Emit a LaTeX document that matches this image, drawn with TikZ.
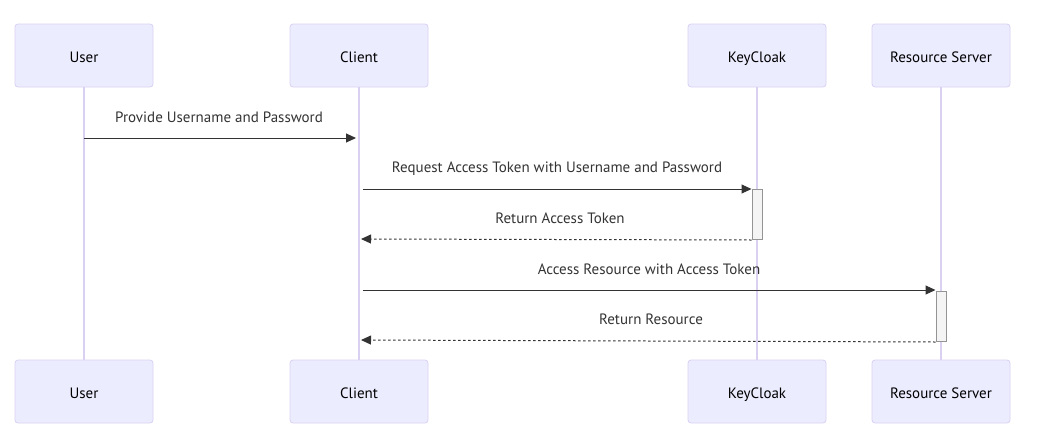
\documentclass[tikz,border=0pt]{standalone}
\usepackage{fontspec}
\setmainfont{PT Sans}
\usetikzlibrary{arrows.meta}
\definecolor{actfill}{HTML}{ECECFF}
\definecolor{actline}{HTML}{D9D0F2}
\definecolor{msg}{HTML}{333333}
\definecolor{actvfill}{HTML}{F4F4F4}
\definecolor{actvline}{HTML}{666666}
\tikzset{
  actor/.style={draw=actline, fill=actfill, rounded corners=3pt, minimum width=138pt, minimum height=63pt, line width=0.8pt, font=\fontsize{15}{17}\selectfont, text=black, inner sep=0pt, text depth=0pt, text height=13.5pt},
  life/.style={draw=actline, line width=1.2pt},
  msgline/.style={draw=msg, line width=1pt, -{Triangle[length=10pt,width=9pt]}},
  retline/.style={msgline, dash pattern=on 2.5pt off 2.5pt},
  lbl/.style={font=\fontsize{15}{17}\selectfont, text=msg, inner sep=0pt},
  activ/.style={draw=actvline!70, fill=actvfill, line width=1pt, minimum width=10pt, minimum height=50pt, inner sep=0pt}
}
\begin{document}
\begin{tikzpicture}[x=1pt,y=-1pt]
\useasboundingbox (0,0) rectangle (1051,447);
% actors top
\node[actor] (ut) at (84,55.5) {User};
\node[actor] (ct) at (359,55.5) {Client};
\node[actor] (kt) at (757,55.5) {KeyCloak};
\node[actor] (rt) at (941,55.5) {Resource Server};
% actors bottom
\node[actor] (ub) at (84,391.5) {User};
\node[actor] (cb) at (359,391.5) {Client};
\node[actor] (kb) at (757,391.5) {KeyCloak};
\node[actor] (rb) at (941,391.5) {Resource Server};
% lifelines
\draw[life] (ut.south) -- (ub.north);
\draw[life] (ct.south) -- (cb.north);
\draw[life] (kt.south) -- (kb.north);
\draw[life] (rt.south) -- (rb.north);
% activations
\node[activ] (ka) at (757,214.5) {};
\node[activ] (ra) at (941,316.5) {};
% coordinates for messages
\coordinate (m1s) at (84,138); \coordinate (m1e) at (356,138);
\coordinate (m2s) at (363,189);
\coordinate (m3e) at (361,239);
\coordinate (m4s) at (363,290);
\coordinate (m5e) at (361,340);
\draw[msgline] (m1s) -- (m1e);
\node[lbl] (l1) at (219,117.5) {Provide Username and Password};
\draw[msgline] (m2s) -- (ka.north west |- m2s);
\node[lbl] (l2) at (557,168.5) {Request Access Token with Username and Password};
\draw[retline] (ka.south west) -- (m3e);
\node[lbl] (l3) at (560,218.5) {Return Access Token};
\draw[msgline] (m4s) -- (ra.west |- m4s);
\node[lbl] (l4) at (649,269.5) {Access Resource with Access Token};
\draw[retline] (ra.south west) -- (m5e);
\node[lbl] (l5) at (651,319.5) {Return Resource};
\end{tikzpicture}
\end{document}
